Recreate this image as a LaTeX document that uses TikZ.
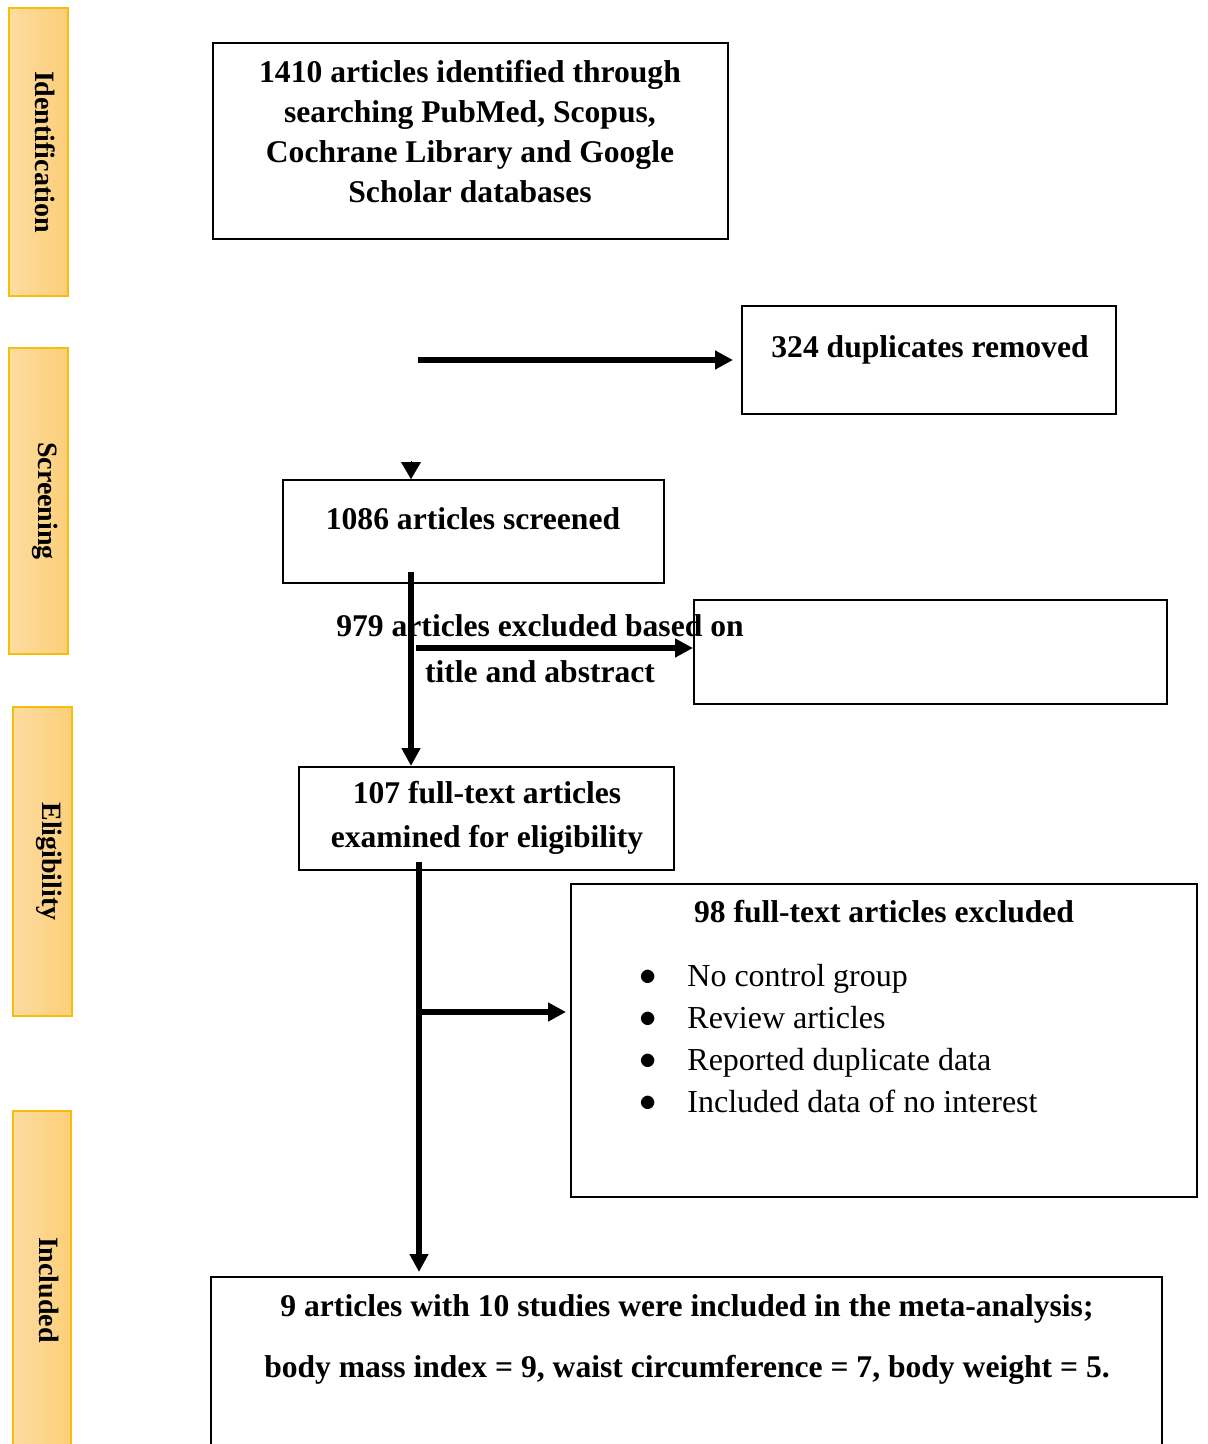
\documentclass[tikz,border=0pt]{standalone}
\usepackage{fontspec}
\setmainfont{Liberation Serif}
\usetikzlibrary{positioning,arrows.meta,calc}
\definecolor{barleft}{HTML}{FDDCA2}
\definecolor{barright}{HTML}{FCCF78}
\definecolor{barrim}{HTML}{F5BE0B}
\tikzset{
  box/.style={draw,line width=1pt,inner sep=0pt},
  phase/.style={draw=barrim,line width=0.9pt,inner sep=0pt,
    left color=barleft,right color=barright},
  phasetext/.style={rotate=-90,inner sep=0pt,font=\fontsize{14}{16}\selectfont\bfseries},
  boxtext/.style={align=center,font=\fontsize{15.8}{20}\selectfont\bfseries},
  itemtext/.style={anchor=base west,inner sep=0pt,font=\fontsize{16}{20}\selectfont},
  flow/.style={line width=3pt,-{Triangle[length=9pt,width=9pt]}},
}
\newcommand{\flowbox}[5]{%
  \node[box,minimum width=#4*0.5pt,minimum height=#5*0.5pt] (#1) at (#2,#3) {};
}
\newcommand{\phasebar}[6]{%
  \node[phase,minimum width=#4*0.5pt,minimum height=#5*0.5pt] (#1) at (#2,#3) {};
  \node[phasetext] (#1txt) at ($(#1.center)+(7,0)$) {#6};
}

\begin{document}
\begin{tikzpicture}[x=0.5pt,y=-0.5pt]
  \useasboundingbox (0,0) rectangle (1207,1444);
  % phase bars
  \phasebar{idbar}{38.5}{152}{59}{288}{Identification}
  \phasebar{scbar}{38.5}{501}{59}{306}{Screening}
  \phasebar{elbar}{42.5}{861.5}{59}{309}{Eligibility}
  \phasebar{inbar}{42}{1290}{58}{358}{Included}
  % boxes
  \flowbox{ident}{470.5}{141}{515}{196}
  \flowbox{dup}{929}{360}{374}{108}
  \flowbox{scr}{473.5}{531.5}{381}{103}
  \flowbox{excl}{930.5}{652}{473}{104}
  \flowbox{elig}{486.5}{818.5}{375}{103}
  \flowbox{full}{884}{1040.5}{626}{313}
  \flowbox{incl}{686.5}{1377}{951}{200}
  % texts
  \node[boxtext] (identtxt) at (470,132) {1410 articles identified through\\
    searching PubMed, Scopus,\\ Cochrane Library and Google\\ Scholar databases};
  \node[boxtext] (duptxt) at (930,350) {324 duplicates removed};
  \node[boxtext] (scrtxt) at (473,519) {1086 articles screened};
  \node[boxtext] (excltxt) at (540,649) {979 articles excluded based on\\[3pt]
    title and abstract};
  \node[boxtext] (eligtxt) at (487,818) {107 full-text articles\\[2pt]
    examined for eligibility};
  \node[boxtext] (fulltxt) at (884,912) {98 full-text articles excluded};
  \foreach \t [count=\i] in {No control group,Review articles,
      Reported duplicate data,Included data of no interest} {
    \node[itemtext] (item\i) at (687,944+42*\i) {\t};
    \node[font=\fontsize{17}{17}\selectfont] (dot\i) at (648,936+42*\i) {$\bullet$};
  }
  \node[boxtext] (incltxt) at (687,1340) {9 articles with 10 studies were included in the meta-analysis;\\[10.5pt]
    body mass index = 9, waist circumference = 7, body weight = 5.};
  % connectors
  \coordinate (d1) at (418,360);
  \draw[flow,shorten >=4pt] (d1) -- (d1 -| dup.west);
  \coordinate (t1) at (411,461);
  \draw[line width=0.1pt,-{Triangle[length=8.5pt,width=10pt]}] (t1) -- (t1 |- scr.north);
  \coordinate (s1) at (411,572);
  \draw[flow] (s1) -- (s1 |- elig.north);
  \coordinate (s2) at (416,648);
  \draw[flow] (s2) -- (s2 -| excl.west);
  \coordinate (e1) at (419,862);
  \draw[flow,shorten >=2pt] (e1) -- (e1 |- incl.north);
  \coordinate (e2) at (419,1012);
  \draw[flow,shorten >=2pt] (e2) -- (e2 -| full.west);
\end{tikzpicture}
\end{document}
